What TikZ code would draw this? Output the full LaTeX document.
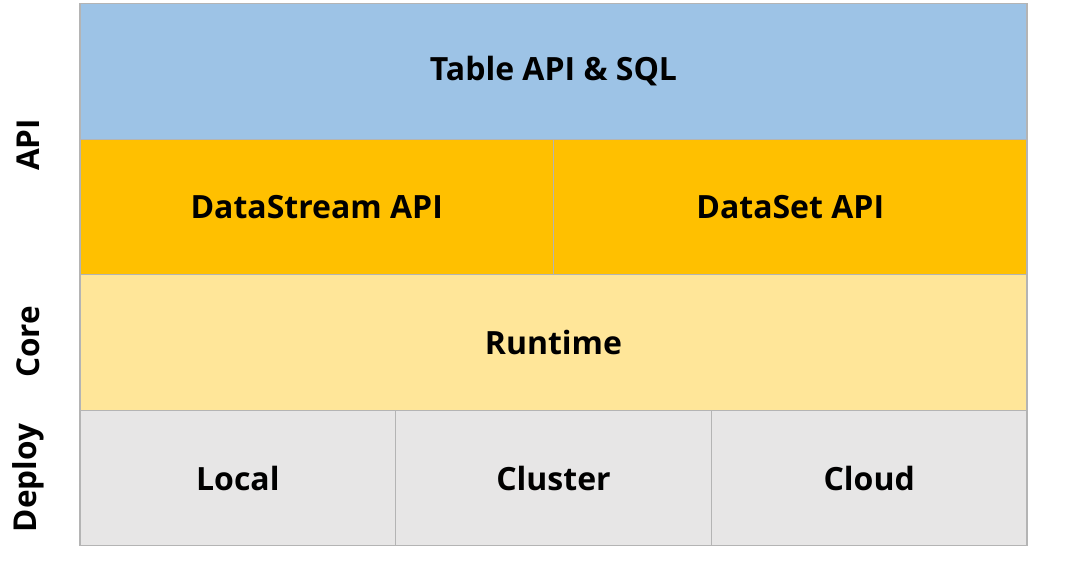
\documentclass[tikz,border=0pt]{standalone}
\usepackage{fontspec}
\setmainfont{Open Sans}
\usepackage{tikz}
\usetikzlibrary{positioning}

\definecolor{tableblue}{HTML}{9DC3E6}
\definecolor{apiorange}{HTML}{FFC000}
\definecolor{coreyellow}{HTML}{FFE699}
\definecolor{deploygray}{HTML}{E7E6E6}
\definecolor{linegray}{HTML}{B4B4B4}

\tikzset{
    layer/.style={rectangle, draw=linegray, line width=1.2pt, inner sep=0pt,
        minimum height=135.5pt, font=\bfseries\fontsize{32}{38}\selectfont},
    side/.style={rotate=90, font=\bfseries\fontsize{31.5}{38}\selectfont}
}

\begin{document}
\begin{tikzpicture}[x=1pt,y=-1pt]
    \useasboundingbox (0,0) rectangle (1078,578);

    % api layer
    \node (table) [layer, fill=tableblue, minimum width=947pt] at (553.5,71.5) {\raisebox{-3pt}{Table API \& SQL}};
    \node (stream) [layer, fill=apiorange, minimum width=473.5pt] at (316.75,207) {\raisebox{-3pt}{DataStream API}};
    \node (dataset) [layer, fill=apiorange, minimum width=473.5pt] at (790.25,207) {\raisebox{-3pt}{DataSet API}};
    % core layer
    \node (runtime) [layer, fill=coreyellow, minimum width=947pt] at (553.5,342.5) {\raisebox{-3pt}{Runtime}};
    % deploy layer
    \node (local) [layer, fill=deploygray, minimum width=315.67pt] at (237.83,478) {\raisebox{-3pt}{Local}};
    \node (cluster) [layer, fill=deploygray, minimum width=315.67pt] at (553.5,478) {\raisebox{-3pt}{Cluster}};
    \node (cloud) [layer, fill=deploygray, minimum width=315.67pt] at (869.17,478) {\raisebox{-3pt}{Cloud}};

    \node (api) [side] at (28,145) {API};
    \node (core) [side] at (28,342) {Core};
    \node (deploy) [side] at (28,478) {Deploy};
\end{tikzpicture}
\end{document}
